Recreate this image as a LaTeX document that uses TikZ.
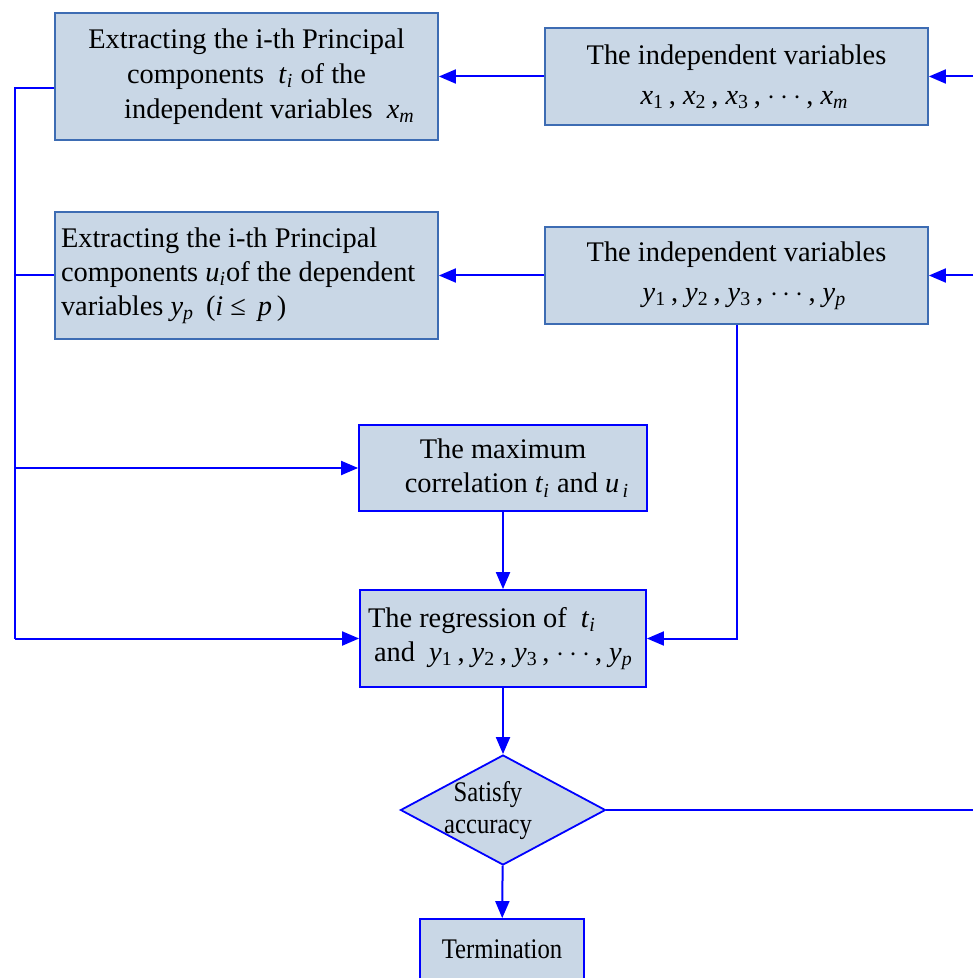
\documentclass[tikz,border=0pt]{standalone}
\usepackage{fontspec}
\setmainfont{Liberation Serif}
\usetikzlibrary{arrows.meta,shapes.geometric}
\definecolor{boxfill}{HTML}{C9D7E6}
\definecolor{boxedge}{HTML}{3D6CB3}
\definecolor{flowblue}{HTML}{0000FF}
\newcommand{\vr}[2]{\textit{#1}\textsubscript{#2}}
\newcommand{\narrow}[1]{\scalebox{0.87}[1]{#1}}

\begin{document}
\begin{tikzpicture}[
    x=0.5pt, y=-0.5pt,
    font=\fontsize{14.2}{17}\selectfont,
    box/.style={draw=boxedge, fill=boxfill, line width=0.9pt, inner sep=3pt, minimum width=191.5pt},
    flowbox/.style={draw=flowblue, fill=boxfill, line width=0.9pt, inner sep=3pt},
    decision/.style={diamond, draw=flowblue, fill=boxfill, line width=0.9pt, inner sep=0pt, minimum width=102.5pt, minimum height=55pt},
    link/.style={draw=flowblue, line width=1pt},
    arrow/.style={link, -{Triangle[length=8.5pt, width=7pt]}}
  ]
    \useasboundingbox (0,0) rectangle (973,978);
    \node[box, minimum height=63.5pt, align=center] (pcx) at (246.5,76.5) {Extracting the i-th Principal\\[0.5pt]components \ \vr{t}{\textit{i}} of the\\[0.5pt]\hspace*{23pt}independent variables \ \vr{x}{\textit{m}}};
    \node[box, minimum height=48.5pt, align=center] (xvars) at (736.5,76.5) {The independent variables\\[3pt]\hspace*{8pt}\vr{x}{1}\,, \vr{x}{2}\,, \vr{x}{3}\,, $\cdots$\,, \vr{x}{\textit{m}}};
    \node[box, minimum height=63.5pt, text width=185.5pt, align=flush left] (pcy) at (246.5,275.5) {Extracting the i-th Principal\\components \vr{u}{\textit{i}}of the dependent\\variables \vr{y}{\textit{p}} \,(\textit{i} ≤ \,\textit{p}\,)};
    \node[box, minimum height=48.5pt, align=center] (yvars) at (736.5,275.5) {The independent variables\\[3pt]\hspace*{8pt}\vr{y}{1}\,, \vr{y}{2}\,, \vr{y}{3}\,, $\cdots$\,, \vr{y}{\textit{p}}};
    \node[flowbox, minimum width=144pt, minimum height=43pt, align=center] (corr) at (503,468) {The maximum\\\hspace*{14pt}correlation \vr{t}{\textit{i}} and \vr{u}{\,\textit{i}}};
    \node[flowbox, minimum width=143pt, minimum height=48.5pt, text width=137pt, align=flush left] (regr) at (503,638.5) {\hspace*{1pt}The regression of \ \vr{t}{\textit{i}}\\\hspace*{4pt}and \ \vr{y}{1}\,, \vr{y}{2}\,, \vr{y}{3}\,, $\cdots$\,, \vr{y}{\textit{p}}};
    \node[decision] (acc) at (503,810) {\makebox[0pt]{\hspace*{-15pt}\smash{\raisebox{-4pt}{\narrow{\begin{tabular}{@{}c@{}}Satisfy\\[-1pt]accuracy\end{tabular}}}}}};
    \node[flowbox, minimum width=82pt, minimum height=30pt] (stop) at (502,949) {\narrow{Termination}};

    \coordinate (xin) at (973,76.5);
    \coordinate (yin) at (973,275.5);
    \coordinate (bus) at (15,88);
    \coordinate (loop) at (973,810);

    \draw[arrow] (xin) -- (xvars.east);
    \draw[arrow] (xvars) -- (pcx);
    \draw[arrow] (yin) -- (yvars.east);
    \draw[arrow] (yvars) -- (pcy);
    \draw[link] (pcx.west |- bus) -- (bus) -- (bus |- regr.west);
    \draw[link] (pcy.west) -- (pcy.west -| bus);
    \draw[arrow] (bus |- corr.west) -- (corr.west);
    \draw[arrow] (bus |- regr.west) -- (regr.west);
    \draw[arrow] (yvars.south) |- (regr.east);
    \draw[arrow] (corr) -- (regr);
    \draw[arrow] (regr) -- (acc);
    \draw[arrow] (acc) -- (stop);
    \draw[link] (acc.east) -- (loop);
  \end{tikzpicture}
\end{document}
